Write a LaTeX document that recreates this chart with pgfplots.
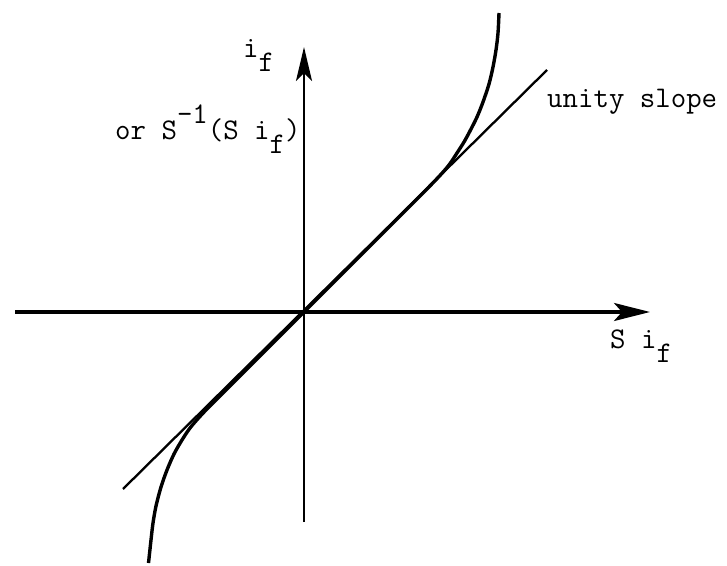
\documentclass[border=0pt]{standalone}
\usepackage{fontspec}
\usepackage{pgfplots}
\pgfplotsset{compat=1.18}
\usetikzlibrary{arrows.meta}
\newcommand\tw{\fontsize{30}{34}\selectfont\ttfamily}
\newcommand\dn[1]{\raisebox{-14pt}{#1}}
\newcommand\up[1]{\raisebox{16pt}{#1}}
\begin{document}
\begin{tikzpicture}
\begin{axis}[
    x=1pt, y=1pt,
    xmin=-304, xmax=423,
    ymin=-253, ymax=312,
    scale only axis,
    hide axis,
    clip=false,
]
% frame of the scanned page
\addplot[draw=none] coordinates {(-304,-253) (423,312)};
% axes
\addplot[line width=3.2pt, -{Stealth[length=36pt,width=18pt,inset=8pt]}]
    coordinates {(-289,0) (346,0)};
\addplot[line width=2.8pt, -{Stealth[length=34pt,width=16pt,inset=8pt]}]
    coordinates {(0,-210) (0,265)};
% unity slope line
\addplot[line width=2.3pt] coordinates {(-181,-177) (243,242)};
% S^{-1}(S i_f) curve
\addplot[line width=3.4pt, smooth] coordinates {
    (-155.5,-251) (-153,-228) (-151,-211) (-148,-194) (-143,-175)
    (-137,-158) (-130,-142) (-122,-128) (-114,-116) (-105,-105.5)
    (-95,-95) (-50,-50) (0,0) (50,50) (100,100) (120,120)
    (135,135.5) (145,147) (153,159) (160,170) (166,181) (173,195)
    (179,210) (185,228) (189,245) (192,262) (194,279) (195,299)
};
% labels
\node[anchor=base west, inner sep=0] at (axis cs:-61,254) {\tw i\dn{f}};
\node[anchor=base west, inner sep=0] at (axis cs:-189,172)
    {\tw or S\up{-1}(S i\dn{f})};
\node[anchor=base west, inner sep=0] at (axis cs:243,204) {\tw unity slope};
\node[anchor=base west, inner sep=0] at (axis cs:306,-36) {\tw S i\dn{f}};
\end{axis}
\end{tikzpicture}
\end{document}
